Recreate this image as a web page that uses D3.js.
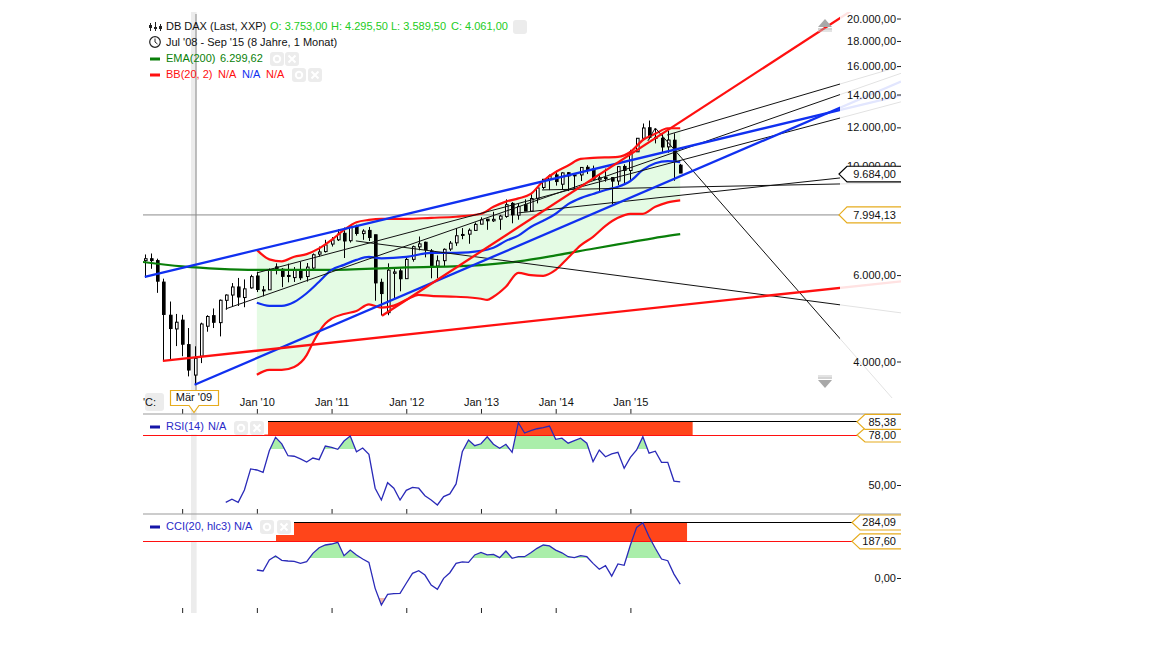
<!DOCTYPE html>
<html>
<head>
<meta charset="utf-8">
<title>DB DAX</title>
<script src="https://cdnjs.cloudflare.com/ajax/libs/d3/7.8.5/d3.min.js"></script>
<style>
	body { margin: 0; background: #fff; }
	text { font-family: "Liberation Sans", Arial, sans-serif; font-size: 11px; fill: #111; }
	.tick line { stroke: #222; }
</style>
</head>
<body>
<div id="plot"></div>
<script>
// Monthly candles, month 0 = Jul '08, month 86 = Sep '15
const open = [
	6420,6479,6422,5806,4970,4660,
	4857,4330,3753,4100,4720,4960,4800,5330,5464,5675,5400,5650,
	5975,5590,5600,6235,6166,5990,5930,6150,5960,6200,6620,6700,
	6940,7080,7300,7050,7550,7290,7400,7250,5800,5030,6050,6120,
	5900,6460,6850,7000,6720,6260,6420,6780,6980,7230,7270,7400,
	7620,7800,7740,7800,7900,8400,7950,8350,8100,8600,9050,9410,
	9600,9190,9700,9560,9600,9950,9870,9380,9480,9480,9330,9990,
	9800,10700,11400,11980,11450,11400,10950,11300,10050];
const high = [
	6610,6640,6480,5900,5300,5000,
	4980,4680,4295.5,4800,4970,5130,5350,5480,5780,5920,5880,6010,
	6095,5700,6190,6340,6200,6330,6230,6390,6350,6640,6860,7080,
	7170,7440,7500,7530,7600,7440,7520,7250,5900,6340,6180,6190,
	6520,6890,7190,7020,6780,6580,6800,7040,7480,7480,7470,7680,
	7870,7810,8075,7960,8560,8450,8400,8560,8770,9050,9420,9620,
	9790,9720,9730,9660,9950,10050,10030,9640,9890,9500,10000,10090,
	10800,11400,12220,12390,11920,11640,11800,11670,10110];
const low = [
	5920,6180,5520,4014,4012,4300,
	4100,3730,3589.5,3970,4600,4680,4500,5100,5170,5190,5160,5630,
	5540,5430,5600,6020,5670,5800,5810,5860,5820,6150,6550,6670,
	6860,7040,6500,6990,7220,7080,7040,5320,4965,4970,5360,5560,
	5900,6390,6740,6520,5910,5915,6250,6720,6880,7100,6950,7390,
	7620,7420,7700,7420,7850,7650,7780,8100,8080,8400,8980,8940,
	9130,8960,8900,9000,9330,9640,9370,8900,9300,8350,9150,9220,
	9380,10690,11290,11350,11130,10660,10650,9340,9680];
const close = [
	6479,6422,5831,4988,4669,4810,
	4338,3843,4061,4770,4941,4808,5332,5464,5675,5414,5625,5957,
	5608,5598,6153,6135,5964,5965,6147,5925,6229,6601,6688,6914,
	7077,7272,7041,7514,7293,7376,7158,5784,5502,6141,6088,5898,
	6458,6856,6946,6761,6264,6416,6772,6970,7216,7260,7405,7612,
	7776,7742,7795,7914,8348,7959,8276,8103,8594,9033,9405,9552,
	9306,9692,9556,9603,9943,9833,9407,9470,9474,9326,9980,9806,
	10694,11401,11966,11454,11413,10945,11308,10259,9684];

// Indicators: [month, value]
const emaLine = [[-0.3,6380],[6,6250],[12,6180],[18,6150],[30,6150],[42,6220],[54,6290],[60,6400],[66,6580],[72,6790],[78,7000],[83,7180],[86,7270]];
const bbUpper = [[18,6753],[20,6460],[22,6400],[24,6540],[26,6620],[28,6800],[30,7077],[32,7417],[34,7690],[36,7773],[38,7810],[40,7810],[42,7810],[46,7850],[50,7890],[54,8000],[56,8265],[58,8470],[60,8600],[62,8780],[64,9330],[66,9730],[68,10030],[70,10350],[72,10400],[76,10450],[78,10690],[80,11310],[82,11640],[84,11950],[86,11950]];
const bbMiddle = [[18,5270],[20,5195],[22,5195],[24,5290],[26,5510],[28,5815],[30,6149],[32,6295],[34,6444],[36,6535],[38,6490],[42,6535],[46,6660],[50,6660],[54,6720],[56,6820],[58,7045],[60,7220],[62,7520],[64,7740],[66,8000],[68,8370],[70,8610],[72,8780],[74,8947],[76,9080],[78,9330],[80,9826],[82,10140],[84,10240],[86,10190]];
const bbLower = [[18,3760],[20,3847],[22,3847],[24,3900],[26,4122],[27,4370],[28,4598],[29,4780],[30,4890],[32,5000],[34,5070],[36,5230],[38,5150],[40,5200],[42,5342],[44,5470],[46,5440],[50,5420],[54,5370],[55,5342],[56,5420],[58,5680],[60,6060],[62,6000],[64,5980],[66,6149],[68,6510],[70,6900],[72,7180],[74,7560],[76,7850],[78,8000],[80,8000],[82,8265],[84,8440],[86,8520]];

// Drawn trend lines: [month, price, month, price], extended to the right edge
const redLines = [[38.1,4956,111.7,20050],[2.9,4013,111.7,5651]];
const blueLines = [[0,5950,111.7,13018],[8,3586,111.7,13165]];
const blackLines = [[13,5120,111.7,14000],[18,6063,111.7,12540],[83.9,11578,111.7,14710],[36.2,6978,111.7,5218],[82,11965,111.7,4449],[63.8,8947,111.7,9202],[60,8033,111.7,9465]];
const blackStubs = [[33.9,7044,36.2,6978],[80.8,11257,82,11965]];

const rsiStart = 13;
const rsiValues = [40.3,42.0,40.3,47.2,59.0,
	58.4,57.1,69.2,76.7,73.0,66.4,66.1,64.6,62.9,65.1,64.2,71.8,
	71.1,70.0,74.6,77.4,68.6,70.7,67.2,48.2,41.6,51.3,48.2,41.6,
	47.0,48.7,48.2,44.0,41.6,38.8,43.5,45.0,50.6,68.6,75.2,72.0,
	73.1,77.0,72.8,70.6,72.8,68.3,84.9,79.1,80.4,81.5,82.1,83.0,
	75.6,76.2,73.4,74.8,76.2,73.4,63.1,69.6,65.8,67.4,68.3,59.4,
	65.5,69.6,77.0,67.8,68.9,62.7,62.7,52.2,51.8];
const cciStart = 18;
const cciValues = [40.9,35.8,92,112.6,90.3,87,85.5,75,83.4,126,155,169,
	174,182.7,114,143,118,97,80,-53,-138,-83.6,-80,-78.5,
	-27,24,37,15,-36,-58,-2,27,75,83,80,118,
	131,118,121,104,138,101,109,109,129,152,169,164,
	143,129,109,104,114,109,75,44.5,63,10,72,65,
	169,259,283,211,152,97,88.5,20,-31];

const xTickMonths = [6,18,30,42,54,66,78];
const xTickLabels = ["","Jan '10","Jan '11","Jan '12","Jan '13","Jan '14","Jan '15"];
const priceTicks = [4000,6000,10000,12000,14000,16000,18000,20000];

const green = "#0a7f0a", red = "#ff1010", blue = "#1030f0", navy = "#2a2ab8", gold = "#e6ac1e", band = "#ff451a";

const svg = d3.select("#plot").append("svg").attr("width",1152).attr("height",648).style("display","block");
const de = d3.formatLocale({decimal:",",thousands:".",grouping:[3],currency:["","€"]});
const fmt = de.format(",.2f");

let x = d3.scaleLinear().domain([0,86]).range([144.8,680.2]);
let y = d3.scaleLog().domain([20000,4000]).range([18.5,361.5]);
let yRsi = d3.scaleLinear().domain([78,50]).range([435,485]);
let yCci = d3.scaleLinear().domain([284.09,0]).range([522.5,578]);

let defs = svg.append("defs");
function addClip(id,x0,y0,w,h) {
	defs.append("clipPath").attr("id",id).append("rect").attr("x",x0).attr("y",y0).attr("width",w).attr("height",h);
}
addClip("mainClip",143,12,758,386);
addClip("rsiUp",143,415,758,Math.floor(yRsi(70))-415);
addClip("cciUp",143,515,758,Math.floor(yCci(100))-515);
addClip("cciDown",143,Math.ceil(yCci(-100)),758,40);

// Crosshair column at Mar '09
svg.append("rect").attr("x",191).attr("y",12).attr("width",5.6).attr("height",601).attr("fill","#ececec");
svg.append("line").attr("x1",196).attr("x2",196).attr("y1",14).attr("y2",392).attr("stroke","#9a9a9a").attr("stroke-width",1.2);

let main = svg.append("g").attr("clip-path","url(#mainClip)");
let priceLine = d3.line().x(d => x(d[0])).y(d => y(d[1]));

// Bollinger fill
main.append("path").attr("d",priceLine(bbUpper.concat(bbLower.slice().reverse()))).attr("fill","#e4fbe4");

// Support line value
main.append("line").attr("x1",143).attr("x2",840).attr("y1",y(7994.13)+1).attr("y2",y(7994.13)+1).attr("stroke","#8c8c8c");

// Candles
let candles = main.append("g").selectAll("g").data(d3.range(open.length)).enter().append("g");
candles.append("line")
	.attr("x1",i => Math.round(x(i))+.5).attr("x2",i => Math.round(x(i))+.5)
	.attr("y1",i => y(high[i])).attr("y2",i => y(low[i]))
	.attr("stroke","#000");
candles.append("rect")
	.attr("x",i => Math.round(x(i))-.5).attr("width",2.6)
	.attr("y",i => y(Math.max(open[i],close[i])))
	.attr("height",i => Math.max(1,Math.abs(y(open[i])-y(close[i]))))
	.attr("fill",i => close[i] >= open[i] ? "#fff" : "#000")
	.attr("stroke","#000").attr("stroke-width",1);

function drawCurve(points,color) {
	main.append("path").attr("d",priceLine.curve(d3.curveMonotoneX)(points)).attr("fill","none")
		.attr("stroke",color).attr("stroke-width",2.2);
	priceLine.curve(d3.curveLinear);
}
drawCurve(emaLine,green);
drawCurve(bbUpper,red);
drawCurve(bbLower,red);
drawCurve(bbMiddle,blue);

// Trend lines run on to the right edge, the pale part comes from the mask below
function drawTrend(t,color,width,extend) {
	let x0 = x(t[0]), y0 = y(t[1]), x1 = x(t[2]), y1 = y(t[3]);
	let xEnd = extend ? 901 : x1;
	let yEnd = y0 + (y1-y0)*(xEnd-x0)/(x1-x0);
	main.append("line").attr("x1",x0).attr("y1",y0).attr("x2",xEnd).attr("y2",yEnd)
		.attr("stroke",color).attr("stroke-width",width);
}
blackLines.forEach(t => drawTrend(t,"#111",1,true));
blackStubs.forEach(t => drawTrend(t,"#111",1,false));
blueLines.forEach(t => drawTrend(t,blue,2.3,true));
redLines.forEach(t => drawTrend(t,red,2.3,true));

main.append("rect").attr("x",840).attr("y",0).attr("width",62).attr("height",400).attr("fill","#fff").attr("opacity",.88);

// Scroll arrows
function arrow(cy,dir) {
	svg.append("path").attr("d","M818,"+(cy+4*dir)+"L825,"+(cy-4*dir)+"L832,"+(cy+4*dir)+"Z").attr("fill","#a8a8a8");
	svg.append("rect").attr("x",818).attr("y",cy+6*dir-.5).attr("width",14).attr("height",1).attr("fill","#a8a8a8");
	svg.append("rect").attr("x",818).attr("y",cy+8*dir-.5).attr("width",14).attr("height",1).attr("fill","#c8c8c8");
}
arrow(23,1);
arrow(384,-1);

// Value axes
function valueAxis(scale,ticks) {
	let g = svg.append("g").attr("transform","translate(901,0)")
		.call(d3.axisLeft(scale).tickValues(ticks).tickFormat(fmt).tickSize(4).tickPadding(1));
	g.select(".domain").remove();
	g.attr("font-family",null).attr("font-size",null);
}
valueAxis(y,priceTicks);
valueAxis(yRsi,[50]);
valueAxis(yCci,[0]);

// Time axes with separators
function timeAxis(yPos,labels) {
	let g = svg.append("g").attr("transform","translate(0,"+yPos+")")
		.call(d3.axisTop(x).tickValues(xTickMonths).tickSize(5).tickPadding(3)
			.tickFormat((d,i) => labels ? xTickLabels[i] : ""));
	g.select(".domain").remove();
	g.attr("font-family",null).attr("font-size",null);
}
timeAxis(414,true);
timeAxis(514,false);
timeAxis(613,false);
svg.append("line").attr("x1",143).attr("x2",901).attr("y1",414).attr("y2",414).attr("stroke","#999");
svg.append("line").attr("x1",143).attr("x2",901).attr("y1",514).attr("y2",514).attr("stroke","#999");

// Indicator panels
function panel(values,start,scale,topVal,redVal,tipX,bandFrom,bandTo,upClip,upVal) {
	let pts = values.map((v,i) => [start+i,v]);
	let area = d3.area().x(d => x(d[0])).y0(scale(upVal)).y1(d => scale(d[1]));
	svg.append("path").attr("d",area(pts)).attr("fill","#aaeeaa").attr("clip-path","url(#"+upClip+")");
	svg.append("rect").attr("x",x(bandFrom)).attr("width",x(bandTo)-x(bandFrom))
		.attr("y",scale(topVal)).attr("height",scale(redVal)-scale(topVal)).attr("fill",band);
	svg.append("line").attr("x1",143).attr("x2",tipX).attr("y1",scale(topVal)).attr("y2",scale(topVal))
		.attr("stroke","#000").attr("shape-rendering","crispEdges");
	svg.append("line").attr("x1",143).attr("x2",tipX).attr("y1",scale(redVal)).attr("y2",scale(redVal))
		.attr("stroke",red).attr("shape-rendering","crispEdges");
	return pts;
}
function panelLine(pts,scale) {
	svg.append("path").attr("d",d3.line().x(d => x(d[0])).y(d => scale(d[1]))(pts))
		.attr("fill","none").attr("stroke",navy).attr("stroke-width",1.3);
}

let rsiPts = panel(rsiValues,rsiStart,yRsi,85.38,78,857,19.2,88,"rsiUp",70);
let cciPts = panel(cciValues,cciStart,yCci,284.09,187.6,852,21,87.1,"cciUp",100);
svg.append("path").attr("d",d3.area().x(d => x(d[0])).y0(yCci(-100)).y1(d => yCci(d[1]))(cciPts))
	.attr("fill","#f4b8a8").attr("clip-path","url(#cciDown)");
panelLine(rsiPts,yRsi);
panelLine(cciPts,yCci);

// Panel legends sit on white boxes over the bands
svg.append("rect").attr("x",143).attr("y",421).attr("width",125).attr("height",13.5).attr("fill","#fff");
svg.append("rect").attr("x",143).attr("y",520).attr("width",151).attr("height",15).attr("fill","#fff");
svg.append("rect").attr("x",143).attr("y",535).attr("width",133).attr("height",6).attr("fill","#fff");

function label(px,py,str,color) {
	return svg.append("text").attr("x",px).attr("y",py).attr("dy","0.35em").text(str).style("fill",color || "#111");
}
function dash(px,py,color) {
	svg.append("rect").attr("x",px).attr("y",py-1.5).attr("width",10).attr("height",3).attr("fill",color);
}
function iconPair(px1,px2,py) {
	[px1,px2].forEach((px,i) => {
		svg.append("rect").attr("x",px).attr("y",py-7).attr("width",14).attr("height",14).attr("rx",3).attr("fill","#ececec");
		if (i == 0) {
			svg.append("circle").attr("cx",px+7).attr("cy",py).attr("r",3.2).attr("fill","none").attr("stroke","#fff").attr("stroke-width",2);
		} else {
			svg.append("path").attr("d","M"+(px+3.5)+","+(py-3.5)+"l7,7m0,-7l-7,7").attr("stroke","#fff").attr("stroke-width",2);
		}
	});
}

// Main legend
svg.append("path").attr("d","M150.5,23v8M155.5,22v9M160.5,24v7").attr("stroke","#222").attr("stroke-width",1);
svg.append("path").attr("d","M149,25h3v3h-3zM154,27h3v2h-3zM159,26h3v3h-3z").attr("fill","#222");
svg.append("circle").attr("cx",155).attr("cy",42).attr("r",5.3).attr("fill","none").attr("stroke","#222").attr("stroke-width",1.2);
svg.append("path").attr("d","M155,38.5V42l2.5,2").attr("fill","none").attr("stroke","#222");

const lime = "#22cc22";
label(166,26,"DB DAX (Last, XXP)");
label(270,26,"O: 3.753,00",lime);
label(331,26,"H: 4.295,50",lime);
label(391,26,"L: 3.589,50",lime);
label(451,26,"C: 4.061,00",lime);
svg.append("rect").attr("x",513).attr("y",20).attr("width",14).attr("height",14).attr("rx",3).attr("fill","#ececec");
label(166,42,"Jul '08 - Sep '15 (8 Jahre, 1 Monat)");
dash(150,59,green);
label(166,58,"EMA(200)",green);
label(220,58,"6.299,62",green);
iconPair(270,285,59);
dash(150,75,red);
label(166,74.5,"BB(20, 2)",red);
label(218,74.5,"N/A",red);
label(242,74.5,"N/A",blue);
label(266,74.5,"N/A",red);
iconPair(292,308,75);

dash(150,427,"#1515a8");
label(166,426.5,"RSI(14)","#2a2ac8");
label(208,426.5,"N/A","#2a2ac8");
iconPair(234,250,428);
dash(150,527,"#1515a8");
label(166,526.5,"CCI(20, hlc3)","#2a2ac8");
label(234,526.5,"N/A","#2a2ac8");
iconPair(260,277,527);

// Value tags at the right edge
function tag(tipX,cy,half,color,str) {
	svg.append("path").attr("d","M901,"+(cy-half)+"H"+(tipX+8)+"L"+tipX+","+cy+"L"+(tipX+8)+","+(cy+half)+"H901")
		.attr("fill","#fff").attr("stroke",color).attr("stroke-width",1.2);
	svg.append("text").attr("x",896).attr("y",cy).attr("dy","0.35em").attr("text-anchor","end").text(str);
}
tag(839,y(9684)+1,7.8,"#000",fmt(9684));
tag(839,y(7994.13)+1,8,gold,fmt(7994.13));
tag(857,yRsi(78),7,gold,fmt(78));
tag(857,yRsi(85.38),7.5,gold,fmt(85.38));
tag(852,yCci(187.6),7.5,gold,fmt(187.6));
tag(852,yCci(284.09),7.5,gold,fmt(284.09));

// Crosshair date tag and drag handle
svg.append("path").attr("d","M170.5,390.5H218.5V405.5H199L194,412.5L189,405.5H170.5Z").attr("fill","#fff").attr("stroke",gold).attr("stroke-width",1.2);
svg.append("text").attr("x",194).attr("y",397.5).attr("dy","0.35em").attr("text-anchor","middle").text("Mär '09");
svg.append("rect").attr("x",145).attr("y",393).attr("width",19).attr("height",18).attr("rx",3).attr("fill","#ececec");
svg.append("text").attr("x",143).attr("y",402).attr("dy","0.35em").text("'C:");
</script>
</body>
</html>
